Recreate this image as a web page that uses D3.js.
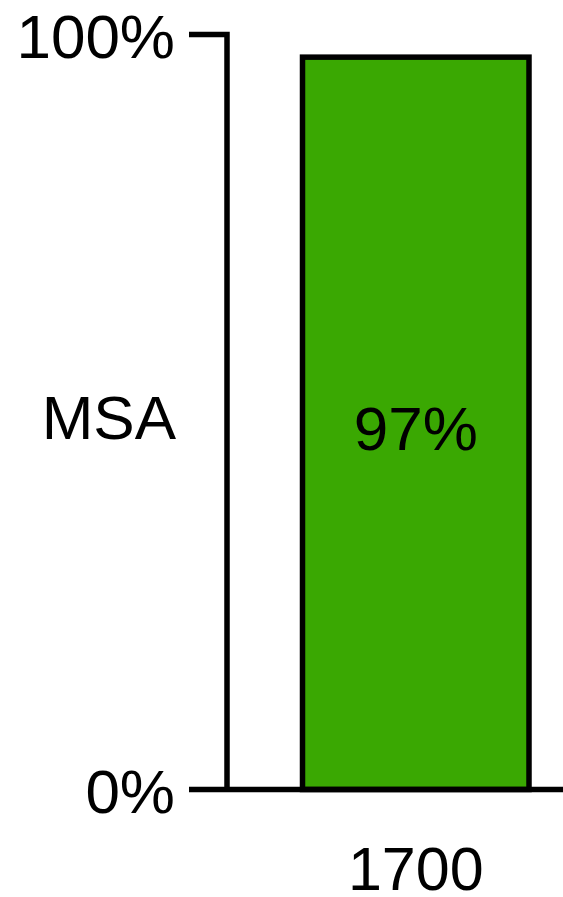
<!DOCTYPE html>
<html>
<head>
<meta charset="utf-8">
<script src="https://cdn.jsdelivr.net/npm/d3@7"></script>
<style>
  html, body { margin: 0; padding: 0; background: #fff; }
  text { font-family: "Liberation Sans", Arial, sans-serif; fill: #000; }
</style>
</head>
<body>
<div id="chart"></div>
<script>
var w = 563;
var h = 897;

var categories = ["1700"];
var values = [97];
var yTicks = [0, 100];
var yTitle = "MSA";

var svg = d3.select("#chart")
    .append("svg")
    .attr("width", w)
    .attr("height", h);

var xScale = d3.scaleBand().domain(categories).range([302.5, 529]).padding(0);
var yScale = d3.scaleLinear().domain([0, 100]).range([789.5, 34.5]);

// y axis: one path with the top tick joined to the line
var axisX = 227;
var tickLeft = 189;
svg.append("path")
    .attr("d", "M" + tickLeft + "," + yScale(100) + "H" + axisX + "V" + yScale(0))
    .attr("fill", "none")
    .attr("stroke", "#000")
    .attr("stroke-width", 5.5);

// bars
svg.selectAll("rect.bar")
    .data(values)
    .enter()
    .append("rect")
    .attr("class", "bar")
    .attr("x", function (d, i) { return xScale(categories[i]); })
    .attr("y", function (d) { return yScale(d); })
    .attr("width", xScale.bandwidth())
    .attr("height", function (d) { return yScale(0) - yScale(d); })
    .attr("fill", "#3aa802")
    .attr("stroke", "#000")
    .attr("stroke-width", 5.5);

// baseline
svg.append("line")
    .attr("x1", tickLeft)
    .attr("x2", w)
    .attr("y1", yScale(0))
    .attr("y2", yScale(0))
    .attr("stroke", "#000")
    .attr("stroke-width", 5.5);

// y tick labels
svg.selectAll("text.ytick")
    .data(yTicks)
    .enter()
    .append("text")
    .attr("class", "ytick")
    .attr("x", 175)
    .attr("y", function (d) { return yScale(d) + 23; })
    .attr("text-anchor", "end")
    .attr("font-size", "62px")
    .text(function (d) { return d + "%"; });

// y title
svg.append("text")
    .attr("x", 176)
    .attr("y", (yScale(0) + yScale(100)) / 2 + 27)
    .attr("text-anchor", "end")
    .attr("font-size", "62px")
    .text(yTitle);

// value labels
svg.selectAll("text.val")
    .data(values)
    .enter()
    .append("text")
    .attr("class", "val")
    .attr("x", function (d, i) { return xScale(categories[i]) + xScale.bandwidth() / 2; })
    .attr("y", function (d) { return (yScale(d) + yScale(0)) / 2 + 27; })
    .attr("text-anchor", "middle")
    .attr("font-size", "62px")
    .text(function (d) { return d + "%"; });

// category labels
svg.selectAll("text.cat")
    .data(categories)
    .enter()
    .append("text")
    .attr("class", "cat")
    .attr("x", function (d) { return xScale(d) + xScale.bandwidth() / 2; })
    .attr("y", 890)
    .attr("text-anchor", "middle")
    .attr("font-size", "61px")
    .text(function (d) { return d; });
</script>
</body>
</html>
